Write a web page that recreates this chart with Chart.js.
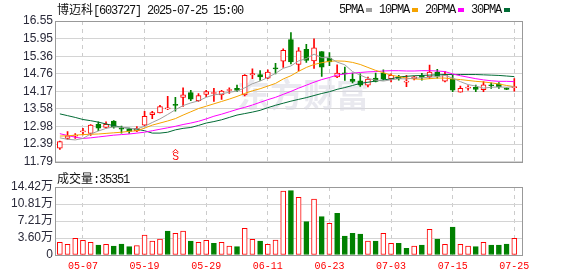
<!DOCTYPE html>
<html>
<head>
<meta charset="utf-8">
<script src="https://cdn.jsdelivr.net/npm/chart.js@4.4.1/dist/chart.umd.min.js"></script>
<style>
  body { margin: 0; background: #fff; width: 578px; height: 276px; overflow: hidden; position: relative; }
  canvas { position: absolute; left: 0; }
  #kline { top: 0; }
  #vol { top: 172px; }
  .txt { position: absolute; font: 12px 'Liberation Mono', monospace; letter-spacing: -1.2px; color: #111; white-space: nowrap; line-height: 12px; }
  .cjk { font-family: 'Noto Sans CJK SC', sans-serif; letter-spacing: 0; }
  #legend { position: absolute; left: 339px; top: 4px; display: flex; align-items: center; }
  #legend .box { width: 6px; height: 4px; margin: 0 7px 0 3px; }
</style>
</head>
<body>
<canvas id="kline" width="578" height="172"></canvas>
<canvas id="vol" width="578" height="104"></canvas>
<div class="txt" style="left:57px;top:3px"><span class="cjk">博迈科</span>[603727] 2025-07-25 15:00</div>
<div id="legend"></div>
<div class="txt" style="left:57px;top:172px"><span class="cjk">成交量</span><span id="volNow"></span></div>

<script>
/* K线 + 成交量 (博迈科 603727) */

const dates = [
  '04-29','04-30','05-06','05-07','05-08','05-09','05-12','05-13','05-14','05-15',
  '05-16','05-19','05-20','05-21','05-22','05-23','05-26','05-27','05-28','05-29',
  '05-30','06-03','06-04','06-05','06-06','06-09','06-10','06-11','06-12','06-13',
  '06-16','06-17','06-18','06-19','06-20','06-23','06-24','06-25','06-26','06-27',
  '06-30','07-01','07-02','07-03','07-04','07-07','07-08','07-09','07-10','07-11',
  '07-14','07-15','07-16','07-17','07-18','07-21','07-22','07-23','07-24','07-25',
];

const opens = [
  12.25, 12.58, 12.66, 12.80, 12.75, 13.06, 12.95, 13.17, 12.92, 12.89,
  12.83, 13.03, 13.38, 13.44, 13.58, 13.72, 13.97, 14.13, 13.86, 14.07,
  14.10, 14.05, 14.20, 14.27, 14.05, 14.73, 14.74, 14.62, 14.95, 15.19,
  15.92, 15.08, 15.59, 15.20, 15.52, 15.30, 14.66, 14.78, 14.58, 14.53,
  14.38, 14.62, 14.79, 14.60, 14.66, 14.48, 14.60, 14.71, 14.66, 14.82,
  14.52, 14.59, 14.14, 14.28, 14.31, 14.23, 14.38, 14.43, 14.28, 14.30,
];
const highs = [
  12.49, 12.81, 12.74, 12.92, 13.05, 13.14, 13.14, 13.18, 13.00, 12.93,
  12.98, 13.50, 13.50, 13.70, 14.00, 13.97, 14.29, 14.21, 14.10, 14.21,
  14.27, 14.21, 14.29, 14.38, 14.74, 14.93, 14.87, 14.90, 15.12, 15.61,
  16.16, 15.65, 15.76, 15.95, 15.52, 15.48, 15.07, 14.99, 14.79, 14.76,
  14.65, 14.79, 14.90, 14.76, 14.71, 14.71, 14.68, 14.78, 15.06, 14.92,
  14.85, 14.72, 14.35, 14.37, 14.38, 14.50, 14.46, 14.47, 14.29, 14.60,
];
const lows = [
  12.21, 12.55, 12.58, 12.70, 12.68, 12.84, 12.93, 12.93, 12.76, 12.75,
  12.81, 13.00, 13.25, 13.44, 13.55, 13.50, 13.66, 13.86, 13.83, 13.99,
  13.83, 13.90, 14.10, 14.16, 14.02, 14.60, 14.54, 14.60, 14.76, 14.98,
  15.10, 14.86, 15.15, 14.95, 14.68, 15.04, 14.63, 14.54, 14.46, 14.34,
  14.32, 14.49, 14.56, 14.49, 14.55, 14.33, 14.56, 14.55, 14.60, 14.62,
  14.49, 14.16, 14.14, 14.21, 14.16, 14.16, 14.27, 14.27, 14.23, 14.18,
];
const closes = [
  12.47, 12.67, 12.69, 12.82, 13.03, 12.93, 13.06, 12.96, 12.89, 12.82,
  12.92, 13.33, 13.45, 13.66, 13.60, 13.70, 14.05, 13.91, 14.03, 14.16,
  14.12, 14.18, 14.22, 14.20, 14.71, 14.77, 14.66, 14.82, 14.93, 15.56,
  15.17, 15.54, 15.22, 15.64, 14.99, 15.17, 14.79, 14.76, 14.51, 14.38,
  14.59, 14.51, 14.60, 14.71, 14.60, 14.52, 14.66, 14.64, 14.82, 14.68,
  14.74, 14.21, 14.27, 14.30, 14.24, 14.39, 14.36, 14.32, 14.24, 14.33,
];

// 成交量 (手)
const volumes = [
  26900, 22700, 35400, 31100, 26900, 21200, 22700, 19100, 23300, 17700,
  19800, 42400, 29700, 33900, 50900, 46000, 50900, 29700, 26900, 31100,
  24800, 26900, 19100, 17700, 56600, 33200, 29700, 22700, 31800, 135700,
  136400, 122400, 70700, 118800, 81300, 67200, 88400, 40300, 46000, 44500,
  29700, 29700, 46000, 24800, 24800, 14100, 19100, 21200, 54500, 33900,
  22700, 59400, 22700, 19100, 17700, 26900, 21200, 21200, 23300, 35351,
];

const ma5 = [
  12.60, 12.55, 12.53, 12.58, 12.73, 12.83, 12.92, 12.97, 12.96, 12.93,
  12.90, 12.99, 13.12, 13.24, 13.39, 13.55, 13.69, 13.78, 13.85, 13.97,
  14.05, 14.09, 14.14, 14.18, 14.29, 14.43, 14.52, 14.64, 14.78, 14.95,
  15.03, 15.20, 15.28, 15.43, 15.31, 15.31, 15.16, 15.07, 14.84, 14.72,
  14.61, 14.55, 14.52, 14.56, 14.60, 14.59, 14.62, 14.63, 14.65, 14.67,
  14.71, 14.62, 14.50, 14.40, 14.35, 14.28, 14.31, 14.32, 14.31, 14.33,
];
const ma10 = [
  12.66, 12.67, 12.69, 12.71, 12.72, 12.73, 12.75, 12.77, 12.79, 12.82,
  12.84, 12.93, 13.03, 13.10, 13.17, 13.25, 13.37, 13.48, 13.59, 13.67,
  13.75, 13.83, 13.91, 14.00, 14.10, 14.19, 14.26, 14.35, 14.44, 14.59,
  14.70, 14.85, 14.98, 15.08, 15.14, 15.19, 15.20, 15.19, 15.15, 15.08,
  14.98, 14.88, 14.80, 14.72, 14.67, 14.62, 14.59, 14.58, 14.60, 14.62,
  14.62, 14.59, 14.57, 14.54, 14.51, 14.49, 14.46, 14.42, 14.37, 14.33,
];
const ma20 = [
  12.74, 12.68, 12.62, 12.58, 12.60, 12.63, 12.66, 12.69, 12.71, 12.73,
  12.76, 12.79, 12.84, 12.89, 12.94, 12.99, 13.05, 13.10, 13.16, 13.24,
  13.33, 13.40, 13.48, 13.56, 13.63, 13.71, 13.80, 13.89, 13.97, 14.07,
  14.17, 14.28, 14.38, 14.48, 14.57, 14.64, 14.72, 14.76, 14.79, 14.81,
  14.83, 14.84, 14.86, 14.87, 14.87, 14.86, 14.86, 14.87, 14.87, 14.86,
  14.84, 14.76, 14.70, 14.65, 14.60, 14.56, 14.53, 14.51, 14.51, 14.50,
];
const ma30 = [
  13.41, 13.35, 13.29, 13.22, 13.18, 13.13, 13.07, 13.01, 12.96, 12.92,
  12.89, 12.84, 12.76, 12.76, 12.79, 12.87, 12.92, 12.95, 13.02, 13.10,
  13.15, 13.21, 13.29, 13.37, 13.42, 13.47, 13.53, 13.62, 13.70, 13.77,
  13.84, 13.90, 13.96, 14.03, 14.10, 14.16, 14.24, 14.30, 14.37, 14.44,
  14.48, 14.52, 14.56, 14.59, 14.66, 14.68, 14.70, 14.71, 14.72, 14.73,
  14.74, 14.74, 14.74, 14.74, 14.74, 14.73, 14.72, 14.71, 14.69, 14.67,
];

const maNames  = ['5PMA', '10PMA', '20PMA', '30PMA'];
const maColors = ['#a0a0a0', '#f5a300', '#ff00ff', '#006b35'];

const priceTicks    = [16.55, 15.95, 15.36, 14.76, 14.17, 13.58, 12.98, 12.39, 11.79];
const volTicks      = [0, 36050, 72100, 108150, 144200];
const volTickLabels = ['0', '3.60万', '7.21万', '10.81万', '14.42万'];
const xTickLabels   = ['05-07', '05-19', '05-29', '06-11', '06-23', '07-03', '07-15', '07-25'];
const signalDate    = '05-23';
const signalText    = 'S';

const RED = '#ff0000', GREEN = '#008000';

// --- helpers ---
const xIdx = xTickLabels.map(d => dates.indexOf(d));
const candleUp = opens.map((o, i) => closes[i] >= o);
const volUp = closes.map((c, i) => i === 0 || c >= closes[i - 1]);

function xAxis(showLabels, height) {
  return {
    type: 'linear',
    offset: false,
    min: -0.5,
    max: dates.length,
    afterBuildTicks: s => { s.ticks = xIdx.map(v => ({ value: v })); },
    afterFit: s => { s.height = height; },
    ticks: {
      display: showLabels, autoSkip: false, maxRotation: 0, padding: 5,
      color: RED, font: { family: "'Liberation Mono', monospace", size: 10 },
      callback: v => dates[v],
    },
    grid: { color: '#cccccc', drawTicks: false, offset: false },
    border: { display: false, dash: [4, 4] },
  };
}

const frame = {
  id: 'frame',
  afterDraw(chart) {
    const { ctx, chartArea: a } = chart;
    ctx.save();
    ctx.strokeStyle = '#999';
    ctx.lineWidth = 1;
    ctx.strokeRect(Math.round(a.left) - 0.5, Math.round(a.top) + 0.5,
                   Math.round(a.right - a.left) + 1, Math.round(a.bottom - a.top));
    ctx.restore();
  },
};

const watermark = {
  id: 'watermark',
  beforeDatasetsDraw(chart) {
    const { ctx, chartArea: a } = chart;
    ctx.save();
    ctx.fillStyle = 'rgba(215,215,225,0.55)';
    ctx.font = "bold 33px 'Noto Sans CJK SC'";
    ctx.textAlign = 'center';
    ctx.textBaseline = 'middle';
    ctx.fillText('东方财富', (a.left + a.right) / 2 + 14, 94);
    ctx.restore();
  },
};

const signal = {
  id: 'signal',
  afterDatasetsDraw(chart) {
    const { ctx, chartArea: a, scales } = chart;
    const x = Math.round(scales.x.getPixelForValue(dates.indexOf(signalDate)));
    const y = a.bottom;
    ctx.save();
    ctx.strokeStyle = RED;
    ctx.fillStyle = RED;
    ctx.lineWidth = 1;
    ctx.beginPath();
    ctx.moveTo(x - 2.5, y - 9.5); ctx.lineTo(x + 0.5, y - 12.5); ctx.lineTo(x + 3.5, y - 9.5);
    ctx.stroke();
    ctx.font = "10px 'Liberation Sans'";
    ctx.textAlign = 'center';
    ctx.textBaseline = 'bottom';
    ctx.fillText(signalText, x + 0.5, y);
    ctx.restore();
  },
};

// --- K线 ---
const klineDatasets = [
  {
    label: 'wick',
    data: highs.map((h, i) => ({ x: i, y: [lows[i], h] })),
    backgroundColor: candleUp.map(u => u ? RED : GREEN),
    borderWidth: 0,
    barThickness: 1,
    grouped: false,
    order: 3,
  },
  {
    label: 'body',
    data: opens.map((o, i) => ({ x: i, y: [o, closes[i]] })),
    backgroundColor: candleUp.map(u => u ? '#ffffff' : GREEN),
    borderColor: candleUp.map(u => u ? RED : GREEN),
    borderWidth: 1,
    borderSkipped: false,
    barThickness: 5,
    minBarLength: 1,
    grouped: false,
    order: 2,
  },
];
[ma5, ma10, ma20, ma30].forEach((arr, k) => {
  klineDatasets.push({
    type: 'line',
    label: maNames[k],
    data: arr.map((v, i) => ({ x: i, y: v })),
    borderColor: maColors[k],
    borderWidth: 1,
    pointRadius: 0,
    tension: 0,
    order: 1,
  });
});

new Chart(document.getElementById('kline'), {
  type: 'bar',
  data: { datasets: klineDatasets },
  options: {
    responsive: false,
    animation: false,
    events: [],
    layout: { padding: { left: 0, right: 56, top: 21, bottom: 7 } },
    plugins: { legend: { display: false }, tooltip: { enabled: false } },
    scales: {
      x: xAxis(false, 0),
      y: {
        min: priceTicks[priceTicks.length - 1],
        max: priceTicks[0],
        afterBuildTicks: s => { s.ticks = priceTicks.map(v => ({ value: v })); },
        afterFit: s => { s.width = 56; },
        ticks: {
          padding: 3, color: '#2a2a3a', autoSkip: false,
          font: { family: "'Liberation Sans', Arial", size: 12 },
          callback: v => v.toFixed(2),
        },
        grid: { color: '#d4d4d4', drawTicks: false },
        border: { display: false },
      },
    },
  },
  plugins: [watermark, signal, frame],
});

// --- 成交量 ---
new Chart(document.getElementById('vol'), {
  type: 'bar',
  data: {
    datasets: [{
      label: '成交量',
      data: volumes.map((v, i) => ({ x: i, y: v })),
      backgroundColor: volUp.map(u => u ? '#ffffff' : GREEN),
      borderColor: volUp.map(u => u ? RED : GREEN),
      borderWidth: 1,
      borderSkipped: false,
      barThickness: 5,
      grouped: false,
    }],
  },
  options: {
    responsive: false,
    animation: false,
    events: [],
    layout: { padding: { left: 0, right: 56, top: 15, bottom: 0 } },
    plugins: { legend: { display: false }, tooltip: { enabled: false } },
    scales: {
      x: xAxis(true, 21),
      y: {
        min: volTicks[0],
        max: volTicks[volTicks.length - 1],
        afterBuildTicks: s => { s.ticks = volTicks.map(v => ({ value: v })); },
        afterFit: s => { s.width = 56; },
        ticks: {
          padding: 3, color: '#2a2a3a', autoSkip: false,
          font: { family: "'Liberation Sans', 'Noto Sans CJK SC'", size: 12 },
          callback: v => volTickLabels[volTicks.indexOf(v)],
        },
        grid: { color: '#d4d4d4', drawTicks: false },
        border: { display: false },
      },
    },
  },
  plugins: [frame],
});

// --- 图例 / 当前成交量 ---
const legend = document.getElementById('legend');
maNames.forEach((n, k) => {
  const t = document.createElement('span');
  t.className = 'txt';
  t.style.position = 'static';
  t.textContent = n;
  const b = document.createElement('span');
  b.className = 'box';
  b.style.background = maColors[k];
  legend.appendChild(t);
  legend.appendChild(b);
});
document.getElementById('volNow').textContent = ':' + volumes[volumes.length - 1];
</script>
</body>
</html>
